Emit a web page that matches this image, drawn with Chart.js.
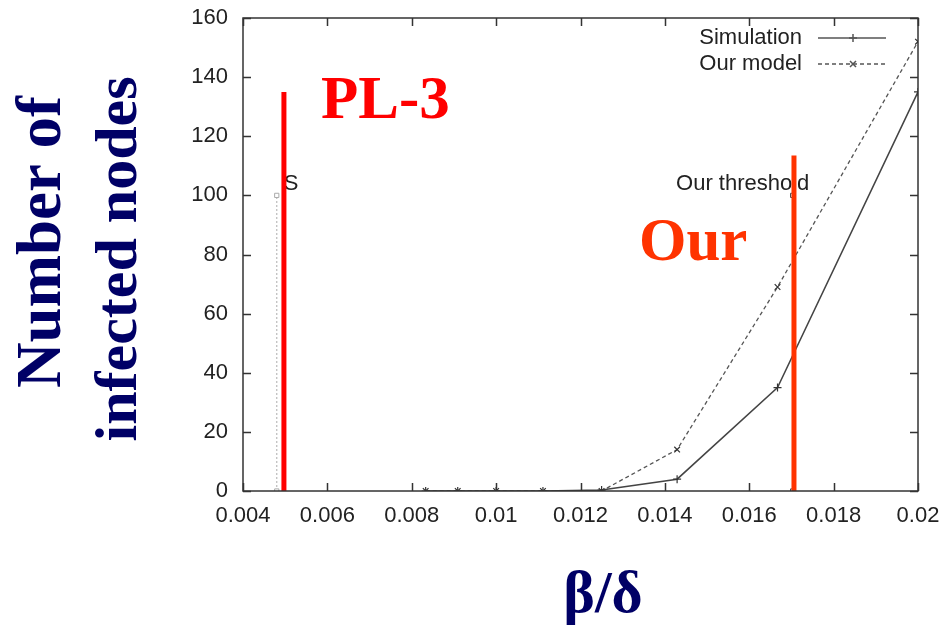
<!DOCTYPE html>
<html><head><meta charset="utf-8">
<script src="https://cdn.jsdelivr.net/npm/chart.js@4.4.1/dist/chart.umd.min.js"></script>
<style>html,body{margin:0;padding:0;background:#fff}#wrap{width:944px;height:626px}</style>
</head><body><div id="wrap"><canvas id="c" width="944" height="626"></canvas></div>
<script>
// x values: beta/delta
const xValues = [0.00833, 0.00909, 0.01, 0.01111, 0.0125, 0.01429, 0.01667, 0.02];
const simulation = [0, 0, 0, 0, 0.3, 4, 35, 135];
const ourModel = [0, 0, 0, 0, 0, 14, 69, 152];
const staticThresholdX = 0.0048;
const ourThresholdX = 0.01703;
const thresholdMarkY = [0, 100];
const pl3LineX = 0.00497;
const pl3LineTop = 135;
const ourLineX = 0.01706;
const ourLineTop = 113.5;
const xTicks = [0.004, 0.006, 0.008, 0.01, 0.012, 0.014, 0.016, 0.018, 0.02];
const yTicks = [0, 20, 40, 60, 80, 100, 120, 140, 160];
const seriesNames = ['Simulation', 'Our model'];

const pts = (xs, ys) => xs.map((x, i) => ({x, y: ys[i]}));
const vline = (x, ys) => ys.map(y => ({x, y}));

const NAVY = '#000066';
const tickFont = '22px "Liberation Sans", Arial, sans-serif';

const decor = {
  id: 'decor',
  beforeDatasetsDraw(chart) {
    const {ctx} = chart;
    const xs = chart.scales.x, ys = chart.scales.y;
    ctx.save();
    ctx.font = tickFont;
    ctx.fillStyle = '#222';
    ctx.textBaseline = 'middle';
    ctx.textAlign = 'left';
    ctx.fillText('S', xs.getPixelForValue(staticThresholdX) + 7, ys.getPixelForValue(104));
    ctx.textAlign = 'center';
    ctx.fillText('Our threshold', xs.getPixelForValue(ourThresholdX) - 50, ys.getPixelForValue(104));
    ctx.restore();
  },
  afterDraw(chart) {
    const {ctx, chartArea: a} = chart;
    const xs = chart.scales.x, ys = chart.scales.y;
    ctx.save();
    ctx.strokeStyle = '#333';
    ctx.lineWidth = 1.5;
    ctx.strokeRect(a.left, a.top, a.right - a.left, a.bottom - a.top);
    ctx.beginPath();
    xTicks.forEach(v => {
      const p = Math.round(xs.getPixelForValue(v)) + 0.5;
      ctx.moveTo(p, a.bottom); ctx.lineTo(p, a.bottom - 8);
      ctx.moveTo(p, a.top); ctx.lineTo(p, a.top + 8);
    });
    yTicks.forEach(v => {
      const p = Math.round(ys.getPixelForValue(v)) + 0.5;
      ctx.moveTo(a.left, p); ctx.lineTo(a.left + 8, p);
      ctx.moveTo(a.right, p); ctx.lineTo(a.right - 8, p);
    });
    ctx.stroke();
    // legend
    ctx.font = tickFont;
    ctx.fillStyle = '#222';
    ctx.textAlign = 'right';
    ctx.textBaseline = 'middle';
    ctx.fillText(seriesNames[0], 802, 38);
    ctx.fillText(seriesNames[1], 802, 64);
    ctx.strokeStyle = '#555';
    ctx.lineWidth = 1.5;
    ctx.beginPath(); ctx.moveTo(818, 38); ctx.lineTo(886, 38); ctx.stroke();
    ctx.beginPath(); ctx.moveTo(849, 38); ctx.lineTo(857, 38); ctx.moveTo(853, 34); ctx.lineTo(853, 42); ctx.stroke();
    ctx.setLineDash([4, 3]);
    ctx.beginPath(); ctx.moveTo(818, 64); ctx.lineTo(886, 64); ctx.stroke();
    ctx.setLineDash([]);
    ctx.beginPath(); ctx.moveTo(850, 61); ctx.lineTo(856, 67); ctx.moveTo(856, 61); ctx.lineTo(850, 67); ctx.stroke();
    // big annotation texts
    ctx.textAlign = 'left';
    ctx.textBaseline = 'alphabetic';
    ctx.font = 'bold 61px "Liberation Serif", "Times New Roman", serif';
    ctx.fillStyle = '#ff0000';
    ctx.fillText('PL-3', 321, 118);
    ctx.fillStyle = '#ff3300';
    ctx.fillText('Our', 639, 260);
    // axis titles
    ctx.fillStyle = NAVY;
    ctx.textAlign = 'center';
    ctx.font = 'bold 60px "Liberation Serif", "Times New Roman", serif';
    ctx.fillText('\u03b2/\u03b4', 603, 612);
    ctx.save();
    ctx.rotate(-Math.PI / 2);
    ctx.font = 'bold 63px "Liberation Serif", "Times New Roman", serif';
    ctx.fillText('Number of', -242, 60);
    ctx.font = 'bold 60px "Liberation Serif", "Times New Roman", serif';
    ctx.fillText('infected nodes', -259, 136);
    ctx.restore();
    ctx.restore();
  }
};

new Chart(document.getElementById('c'), {
  type: 'line',
  data: {
    datasets: [
      {label: 'PL-3 line', data: vline(pl3LineX, [0, pl3LineTop]), borderColor: '#ff0000', borderWidth: 5, pointRadius: 0, order: 0},
      {label: 'Our line', data: vline(ourLineX, [0, ourLineTop]), borderColor: '#ff3300', borderWidth: 5, pointRadius: 0, order: 0},
      {label: seriesNames[0], data: pts(xValues, simulation), borderColor: '#444', borderWidth: 1.5, pointStyle: 'cross', pointRadius: 4, pointBorderColor: '#333', pointBorderWidth: 1.2, order: 2},
      {label: seriesNames[1], data: pts(xValues, ourModel), borderColor: '#555', borderWidth: 1.3, borderDash: [4, 3], pointStyle: 'crossRot', pointRadius: 4, pointBorderColor: '#333', pointBorderWidth: 1.2, order: 2},
      {label: 'S threshold', data: vline(staticThresholdX, thresholdMarkY), borderColor: '#bbb', borderWidth: 1.2, borderDash: [2, 2], pointStyle: 'rect', pointRadius: 3, pointBorderColor: '#aaa', pointBackgroundColor: '#fff', pointBorderWidth: 1, order: 3},
      {label: 'Our threshold', data: vline(ourThresholdX, thresholdMarkY), borderColor: '#666', borderWidth: 1.2, borderDash: [2, 2], pointStyle: 'rect', pointRadius: 3, pointBorderColor: '#444', pointBackgroundColor: '#fff', pointBorderWidth: 1, order: 3}
    ]
  },
  options: {
    responsive: false,
    animation: false,
    events: [],
    layout: {padding: {top: 18, right: 26, left: 0, bottom: 0}},
    plugins: {legend: {display: false}, tooltip: {enabled: false}},
    scales: {
      x: {
        type: 'linear', min: 0.004, max: 0.02,
        afterBuildTicks: s => { s.ticks = xTicks.map(v => ({value: v})); },
        afterFit: s => { s.height = 626 - 491; s.paddingLeft = 0; s.paddingRight = 0; },
        grid: {display: false, drawTicks: false},
        border: {display: false},
        ticks: {font: {family: '"Liberation Sans", Arial, sans-serif', size: 22}, color: '#222', padding: 12, maxRotation: 0,
          callback: v => String(+v.toFixed(3))}
      },
      y: {
        type: 'linear', min: 0, max: 160,
        afterBuildTicks: s => { s.ticks = yTicks.map(v => ({value: v})); },
        afterFit: s => { s.width = 243; s.paddingTop = 0; s.paddingBottom = 0; },
        grid: {display: false, drawTicks: false},
        border: {display: false},
        ticks: {font: {family: '"Liberation Sans", Arial, sans-serif', size: 22}, color: '#222', padding: 15}
      }
    }
  },
  plugins: [decor]
});
</script></body></html>
